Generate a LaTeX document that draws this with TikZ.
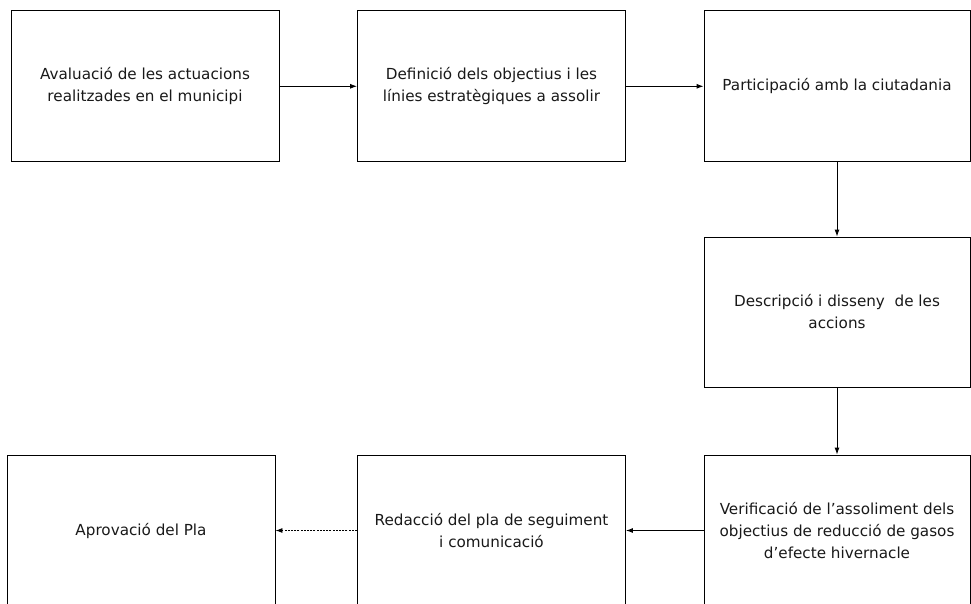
\documentclass[tikz,border=0pt]{standalone}
\usepackage{fontspec}
\setmainfont{DejaVu Sans}
\usetikzlibrary{arrows.meta}
\begin{document}
\begin{tikzpicture}[x=1pt,y=-1pt,
  box/.style={draw=black,line width=0.9pt,fill=white,minimum width=268pt,minimum height=151pt,
    inner sep=0pt,align=center,text=black!90,font=\fontsize{15.2}{22}\selectfont},
  arr/.style={draw=black,line width=0.9pt,-{Latex[length=7pt,width=5pt]}},
  darr/.style={arr,dash pattern=on 2pt off 1.2pt}]
\useasboundingbox (0,0) rectangle (971,604);
\clip (0,0) rectangle (971,604);
\fill[white] (0,0) rectangle (971,604);
\node[box] (b1) at (145,86.3) {Avaluació de les actuacions\\realitzades en el municipi};
\node[box] (b2) at (491.5,86.3) {Definició dels objectius i les\\línies estratègiques a assolir};
\node[box,minimum width=266pt] (b3) at (837,86.3) {Participació amb la ciutadania};
\node[box,minimum width=266pt,minimum height=150pt] (b4) at (837,312) {Descripció i disseny\ \ de les\\accions};
\node[box,minimum width=266pt] (b7) at (837,530.5) {Verificació de l’assoliment dels\\objectius de reducció de gasos\\d’efecte hivernacle};
\node[box] (b6) at (491.5,530.5) {Redacció del pla de seguiment\\i comunicació};
\node[box] (b5) at (141,530.5) {Aprovació del Pla};
\draw[arr] (b1) -- (b2);
\draw[arr] (b2) -- (b3);
\draw[arr] (b3) -- (b4);
\draw[arr] (b4) -- (b7);
\draw[arr] (b7) -- (b6);
\draw[darr] (b6) -- (b5);
\end{tikzpicture}
\end{document}
